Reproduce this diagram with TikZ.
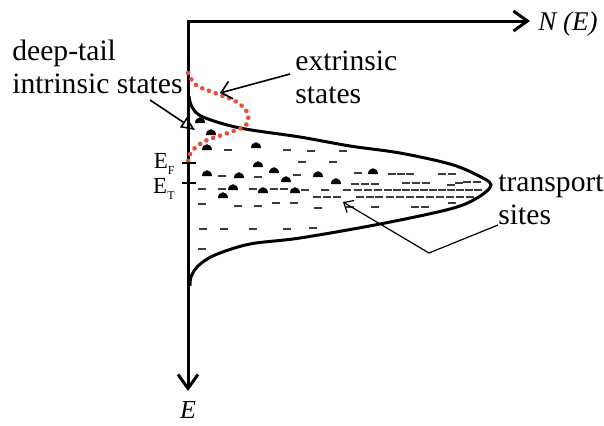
\documentclass[tikz,border=0pt]{standalone}
\usepackage{fontspec}
\setmainfont{Liberation Serif}
\usetikzlibrary{arrows.meta,positioning}
\definecolor{DotRed}{RGB}{232,78,58}
\definecolor{DashGray}{RGB}{60,60,60}

\begin{document}
\begin{tikzpicture}[
    x=0.5pt, y=-0.5pt,
    axis/.style={line width=1.5pt, line join=miter,
      {Straight Barb[length=7pt,width=10pt]}-{Straight Barb[length=7pt,width=10pt]}},
    dos/.style={line width=1.5pt},
    tail/.style={DotRed, line width=2.3pt, line cap=round, dash pattern=on 0pt off 3.6pt},
    lbl/.style={font=\fontsize{14.8}{16.5}\selectfont, inner sep=0pt, align=left},
    pointer/.style={line width=0.8pt},
    lev/.style={DashGray, line width=0.8pt},
    tick/.style={line width=1pt}
  ]
  \useasboundingbox (0,0) rectangle (604,425);

  % axes
  \coordinate (O) at (188,21);
  \coordinate (Etip) at (188,391);
  \coordinate (Ntip) at (530,21);
  \draw[axis] (Etip) -- (O) -- (Ntip);
  \node[font=\fontsize{13.5}{16}\selectfont\itshape, anchor=base west, inner sep=0pt] (NE) at (538,30) {N (E)};
  \node[font=\fontsize{13}{16}\selectfont\itshape, anchor=base, inner sep=0pt] (Elab) at (188,418) {E};

  % density of states
  \draw[dos] plot[smooth, tension=0.55] coordinates {(189,96) (192,107) (203,117) (240,128)
    (300,137) (350,146) (400,153) (450,164) (477,175) (491,185) (477,198) (450,209)
    (380,224) (300,238) (250,244) (215,255) (198,266) (191,277) (190,286)};

  % extrinsic states
  \draw[tail] plot[smooth, tension=0.6] coordinates {(188,73) (196,85) (215,93) (235,101)
    (247,112) (246,125) (228,133) (205,141) (192,151) (188,161)};

  % energy levels
  \foreach \x/\y in {228/150, 287/150, 311/151, 343/151, 302/162, 333/162,
      222/176, 258/177, 297/175, 358/173, 392/174, 401/174, 410/174, 442/174, 452/174,
      355/184, 365/184, 375/184, 406/183, 416/183, 426/183, 451/185, 459/183, 467/182, 477/182,
      202/189, 222/189, 253/189, 274/189, 284/189, 305/190, 325/190, 347/190, 358/190,
      368/190, 378/190, 388/190, 397/190, 406/190, 415/190, 424/190, 433/190, 442/190,
      451/190, 460/190, 469/190, 478/190,
      317/197, 327/197, 337/197, 360/197, 370/197, 379/197, 390/197, 400/197, 410/197,
      420/197, 430/197, 440/197, 450/197, 460/197, 470/197,
      202/204, 238/206, 258/206, 276/203, 294/203, 318/208, 350/207, 375/207, 415/207,
      425/207, 452/203,
      203/229, 224/229, 253/229, 287/229, 313/228, 202/249}
    \draw[lev] (\x-4,\y) -- (\x+4,\y);

  % carriers
  \foreach \x/\y in {200/120, 211/132, 207/147, 256/145, 258/164, 274/170, 207/173,
      239/175, 286/179, 318/174, 336/181, 373/171, 233/187, 263/190, 295/190, 223/195}
    \fill (\x,\y+3) ++(-2.5pt,0pt) arc[start angle=180, end angle=0, x radius=2.5pt, y radius=2.9pt] -- cycle;

  % Fermi and transport levels
  \coordinate (EFa) at (182,163);
  \coordinate (EFb) at (196,163);
  \coordinate (ETa) at (182,183);
  \coordinate (ETb) at (196,183);
  \draw[tick] (EFa) -- (EFb);
  \draw[tick] (ETa) -- (ETb);
  \node[font=\fontsize{11.5}{13}\selectfont, anchor=base east, inner sep=0pt] (EF) at (175,168)
    {E\raisebox{-3pt}{\fontsize{6}{6}\selectfont F}};
  \node[font=\fontsize{11.5}{13}\selectfont, anchor=base east, inner sep=0pt] (ET) at (175,193)
    {E\raisebox{-3pt}{\fontsize{6}{6}\selectfont T}};

  % labels
  \node[lbl, anchor=north west] (deep) at (12,40) {deep-tail\\intrinsic states};
  \node[lbl, anchor=north west] (extr) at (295,50) {extrinsic\\states};
  \node[lbl, anchor=north west] (trans) at (498,174) {transport\\sites};

  \coordinate (deepS) at (150,100);
  \coordinate (deepE) at (195,130);
  \draw[pointer, -{Triangle[open, length=7pt, width=6pt]}] (deepS) -- (deepE);
  \coordinate (extrS) at (290,74);
  \coordinate (extrE) at (220,93);
  \draw[pointer, -{Straight Barb[length=5pt, width=9pt]}] (extrS) -- (extrE);
  \coordinate (transS) at (498,225);
  \coordinate (transB) at (429,253);
  \coordinate (transE) at (343,202);
  \draw[line width=0.6pt, -{Straight Barb[length=4pt, width=7pt]}] (transS) -- (transB) -- (transE);
\end{tikzpicture}
\end{document}
